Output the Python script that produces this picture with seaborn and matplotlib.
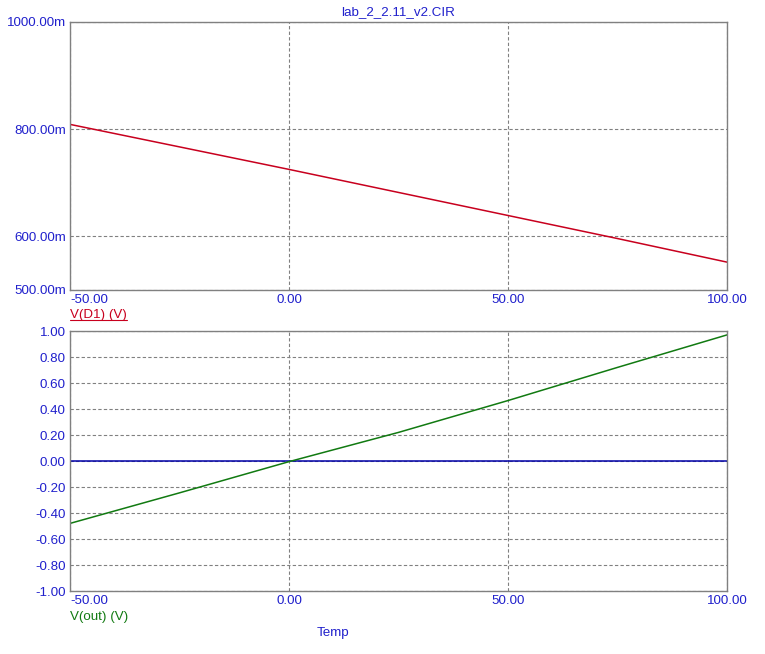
import numpy as np
import pandas as pd
import matplotlib
matplotlib.use('Agg')
import matplotlib.pyplot as plt
import seaborn as sns
from matplotlib.lines import Line2D

# --- data ---
temp = [-50, -25, 0, 25, 50, 75, 100]
v_d1 = [0.809, 0.767, 0.725, 0.682, 0.639, 0.596, 0.552]
v_out = [-0.48, -0.245, -0.005, 0.22, 0.465, 0.72, 0.97]

x_ticks = [-50, 0, 50, 100]
top_yticks = [0.5, 0.6, 0.8, 1.0]
bot_yticks = [-1.0, -0.8, -0.6, -0.4, -0.2, 0.0, 0.2, 0.4, 0.6, 0.8, 1.0]

df = pd.DataFrame({'Temp': temp, 'VD1': v_d1, 'Vout': v_out})

sns.set_style('white')
plt.rcParams['font.family'] = ['Liberation Sans', 'DejaVu Sans']

BLUE = '#2020cc'
RED = '#c8001e'
GREEN = '#117a11'
GRID = '#808080'
FS = 9.6

fig = plt.figure(figsize=(7.65, 6.54), dpi=100)
W, H = 765, 654


def make_axes(left, top, right, bottom):
    return fig.add_axes([left / W, 1 - bottom / H, (right - left) / W, (bottom - top) / H])


ax1 = make_axes(70, 22, 727, 290)
ax2 = make_axes(70, 331, 727, 591)

sns.lineplot(data=df, x='Temp', y='VD1', ax=ax1, color=RED, linewidth=1.1)
sns.lineplot(data=df, x='Temp', y='Vout', ax=ax2, color=GREEN, linewidth=1.1)
ax2.axhline(0, color='#0000a8', linewidth=1.1, zorder=1)

for ax in (ax1, ax2):
    ax.set_xlim(-50, 100)
    ax.set_xticks(x_ticks)
    ax.set_xticklabels(['%.2f' % v for v in x_ticks])
    ax.get_xticklabels()[0].set_ha('left')
    ax.set_xlabel('')
    ax.set_ylabel('')
    ax.grid(True, color=GRID, linestyle=(0, (3, 2)), linewidth=0.8)
    ax.tick_params(length=0, labelsize=FS, labelcolor=BLUE, pad=3)
    for s in ax.spines.values():
        s.set_color(GRID)
        s.set_linewidth(1.0)
        s.set_visible(True)

ax1.set_ylim(0.5, 1.0)
ax1.set_yticks(top_yticks)
ax1.set_yticklabels(['%.2fm' % (v * 1000) for v in top_yticks])

ax2.set_ylim(-1.0, 1.0)
ax2.set_yticks(bot_yticks)
ax2.set_yticklabels(['%.2f' % v for v in bot_yticks])

fig.text(398.5 / W, 1 - 12 / H, 'lab_2_2.11_v2.CIR', ha='center', va='center',
         color=BLUE, fontsize=FS)
t1 = fig.text(70 / W, 1 - 315 / H, 'V(D1) (V)', ha='left', va='center',
              color=RED, fontsize=FS)
fig.text(70 / W, 1 - 617 / H, 'V(out) (V)', ha='left', va='center',
         color=GREEN, fontsize=FS)
fig.text(333 / W, 1 - 633 / H, 'Temp', ha='center', va='center',
         color=BLUE, fontsize=FS)

# underline the top trace label
fig.canvas.draw()
bb = t1.get_window_extent()
fig.add_artist(Line2D([bb.x0 / W, bb.x1 / W], [(bb.y0 + 1) / H, (bb.y0 + 1) / H],
                      transform=fig.transFigure, color=RED, linewidth=0.8))

fig.savefig('out.png', dpi=100)
